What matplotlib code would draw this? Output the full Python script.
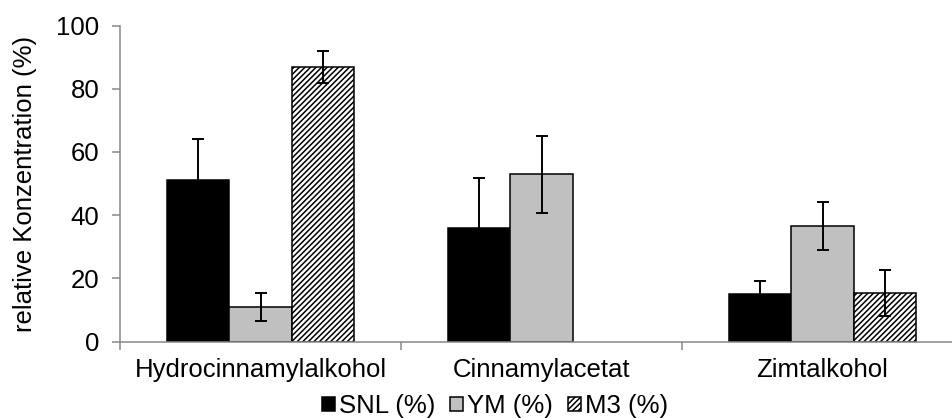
import numpy as np
import matplotlib
matplotlib.use('Agg')
import matplotlib.pyplot as plt

plt.rcParams['font.family'] = ['Liberation Sans', 'DejaVu Sans']
plt.rcParams['hatch.linewidth'] = 1.1

categories = ['Hydrocinnamylalkohol', 'Cinnamylacetat', 'Zimtalkohol']
snl = [51.0, 36.0, 15.0]
snl_err = [13.0, 15.6, 4.2]
ym = [10.9, 52.9, 36.6]
ym_err = [4.5, 12.1, 7.5]
m3 = [86.8, np.nan, 15.4]
m3_err = [5.0, np.nan, 7.3]

fs = 18.5
fig = plt.figure(figsize=(9.52, 4.18), dpi=100)
ax = fig.add_axes([120/952, (418-341.5)/418, 843/952, 316/418])

x = np.arange(len(categories))
w = 0.222
ekw = dict(ecolor='black', elinewidth=1.4, capsize=4.5, capthick=1.4)
ax.bar(x - w, snl, w, yerr=snl_err, color='black', edgecolor='black',
       linewidth=1.1, error_kw=ekw, label='SNL (%)')
ax.bar(x, ym, w, yerr=ym_err, color='#c0c0c0', edgecolor='black',
       linewidth=1.1, error_kw=ekw, label='YM (%)')
ax.bar(x + w, m3, w, yerr=m3_err, color='white', edgecolor='black',
       linewidth=1.1, hatch='//////', error_kw=ekw, label='M3 (%)')

ax.set_xlim(-0.5, 2.5)
ax.set_ylim(0, 100)
ax.set_yticks([0, 20, 40, 60, 80, 100])
ax.set_xticks(x)
ax.set_xticklabels(categories, fontsize=fs)
ax.set_xticks([-0.5, 0.5, 1.5], minor=True)
ax.tick_params(axis='x', which='major', length=0, pad=12)
ax.tick_params(axis='x', which='minor', length=6, width=1.1, color='#888888', direction='out')
ax.tick_params(axis='y', length=6, width=1.1, color='#888888', labelsize=fs, pad=9)

for s in ['top', 'right']:
    ax.spines[s].set_visible(False)
for s in ['left', 'bottom']:
    ax.spines[s].set_color('#888888')
    ax.spines[s].set_linewidth(1.1)

ax.set_ylabel('relative Konzentration (%)', fontsize=fs)
ax.yaxis.set_label_coords(-0.099, 0.5)

fig.legend(loc='center', bbox_to_anchor=(495/952, 12/418), ncol=3, frameon=False,
           fontsize=fs, handlelength=0.5, handleheight=0.5, handletextpad=0.15,
           columnspacing=0.6, borderpad=0)

fig.savefig('out.png', dpi=100)
